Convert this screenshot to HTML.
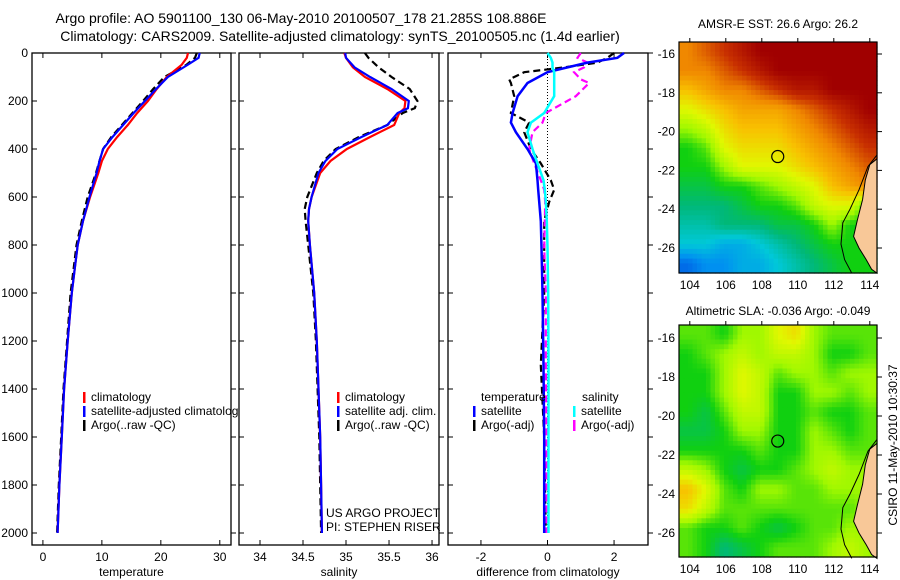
<!DOCTYPE html>
<html><head><meta charset="utf-8">
<style>
html,body{margin:0;padding:0;background:#fff;}
svg{display:block;font-family:"Liberation Sans",sans-serif;}
text{fill:#000;}
</style></head>
<body>
<svg id="fig" width="900" height="580" viewBox="0 0 900 580" xmlns="http://www.w3.org/2000/svg">
<text x="301" y="23" font-size="14" text-anchor="middle">Argo profile: AO 5901100_130 06-May-2010 20100507_178 21.285S 108.886E</text>
<text x="340" y="41" font-size="14" text-anchor="middle">Climatology: CARS2009. Satellite-adjusted climatology: synTS_20100505.nc (1.4d earlier)</text>
<g id="g1"></g>
<g id="g2"></g>
<g id="g3"></g>
<g id="m1"></g>
<g id="m2"></g>
<text x="778" y="28" font-size="12" text-anchor="middle">AMSR-E SST: 26.6 Argo: 26.2</text>
<text x="778" y="315" font-size="12" text-anchor="middle">Altimetric SLA: -0.036 Argo: -0.049</text>
<text transform="translate(897,445) rotate(-90)" font-size="12" text-anchor="middle">CSIRO 11-May-2010 10:30:37</text>
</svg>
<script>
// ---- profile data ----
const depthT = [0,20,50,100,150,200,250,300,350,400,450,500,600,700,800,900,1000,1200,1400,1600,1800,2000];
const tempClim = [24.6,24.4,23.5,21,19.3,17.8,16,14.4,12.6,11,10,9.4,8,6.8,5.9,5.4,4.9,4.2,3.6,3.2,2.8,2.5];
const tempSat  = [26.6,26.4,24.5,21.2,19.2,17.3,15.4,13.6,11.8,10.2,9.6,9.1,7.9,6.8,5.9,5.4,4.9,4.2,3.6,3.2,2.8,2.5];
const tempArgo = [26.1,25.8,24.3,20.6,18.7,17,15.2,13.4,11.6,10.2,9.6,9,7.6,6.6,5.7,5.2,4.7,4.1,3.5,3.1,2.7,2.4];
const depthS = [0,20,60,100,150,200,230,250,300,350,400,450,500,600,650,700,800,1000,1200,1400,1600,1800,2000];
const salClim = [34.98,35.0,35.08,35.22,35.48,35.69,35.68,35.62,35.56,35.28,35.01,34.82,34.70,34.60,34.57,34.56,34.58,34.63,34.66,34.68,34.70,34.71,34.72];
const salSat  = [34.99,35.0,35.1,35.28,35.53,35.73,35.72,35.6,35.48,35.18,34.9,34.76,34.68,34.60,34.57,34.56,34.58,34.63,34.66,34.68,34.70,34.71,34.72];
const salArgo = [35.22,35.26,35.38,35.53,35.74,35.83,35.8,35.66,35.48,35.15,34.88,34.74,34.66,34.55,34.52,34.53,34.56,34.62,34.65,34.67,34.69,34.70,34.71];
const depthD = [0,20,40,60,80,110,125,180,250,290,330,400,460,530,570,620,700,810,1000,1300,1600,2000];
const dTSat  = [2.3,2.1,1.2,0.6,0,-0.4,-0.6,-0.9,-1.05,-1.1,-0.95,-0.6,-0.35,-0.3,-0.28,-0.25,-0.2,-0.18,-0.15,-0.12,-0.1,-0.1];
const dTArgo = [2.0,1.8,1.5,0.5,-0.7,-1.15,-1.1,-1.0,-1.1,-0.55,-0.7,-0.5,-0.2,0.1,0.2,0.05,-0.1,-0.1,-0.1,-0.2,-0.1,-0.05];
const dSSat  = [0,0.1,0.15,0.15,0.2,0.2,0.2,0.2,-0.1,-0.5,-0.6,-0.45,-0.3,-0.12,-0.08,-0.05,-0.02,0,0.02,0.03,0.03,0.03];
const dSArgo = [1.0,0.9,1.2,1.1,0.8,1.0,1.25,0.85,-0.05,-0.15,-0.45,-0.55,-0.4,-0.2,-0.1,-0.07,-0.08,-0.1,-0.05,-0.05,-0.03,-0.03];
const depthTicks = [0,200,400,600,800,1000,1200,1400,1600,1800,2000];
const tempTicks = [0,10,20,30];
const salTicks = [34,34.5,35,35.5,36];
const salTickLabels = ["34","34.5","35","35.5","36"];
const diffTicks = [-2,0,2];
// ---- map data (0..10 colour index) ----
const sstGrid = [
[8,8.5,9,9.5,10,10,10,10,10,10,10],
[8,8,8.5,9,9.5,10,10,10,10,10,10],
[7,7.5,8,8,8.5,9,9.5,9.5,10,10,10],
[6,6.5,7,7.5,7.5,7.5,8,8.5,9,9.5,10],
[5,5.5,6.5,7,7,7,7.5,8,8.5,9,9.5],
[4,4.5,6,6.5,6.5,6.5,7,7.5,8,8.5,9],
[4,4,5,6,6,6,6.5,7,7.5,8,8.5],
[3.5,3.5,4,4,4.5,5,5.5,6,7,7.5,8],
[3,3,3,3.5,4,4,4.5,5.5,6,6,4],
[2.5,2.5,3,3,3,3.5,3.5,4,5,4,4],
[2,2,1.5,1.5,2,2.5,3,3.5,4,4,4],
[0.5,1,1,1.5,1.5,2,2.5,3,3.5,4,4]];
const slaGrid = [
[4.5,4.5,4,5,5,6,6.5,5,4.5,4.5,4.5],
[4,4.5,5,5.5,5,5.5,5.5,5,4,4,4.5],
[4,4,5,6,5.5,4.5,5,5,4.5,5,5],
[4,4,5,6,5.5,4,4,5,5,4.5,5],
[4,3.5,4.5,5.5,5.5,4,4,4.5,4,4,4.5],
[3.5,3.5,4,5,5,4,4,5,4.5,4,4.5],
[4,4,4,4,4.5,4,4,5,5,4.5,4.5],
[5.5,5,4,3.5,4,4,4.5,5,5.5,5,5],
[7,6,4.5,4,5,5,4.5,4.5,5,5,5],
[6.5,5.5,4.5,4.5,4.5,4.5,4.5,4.5,4.5,4.5,5],
[4.5,4,4,4.5,4,3.5,4,4.5,4.5,5,5],
[4.5,4,3,3.5,4,4.5,4.5,4.5,5,5.5,5]];
const lonTicks = [104,106,108,110,112,114];
const latTicks = [-16,-18,-20,-22,-24,-26];
const coastLon = [114.4,114.0,113.75,113.6,113.3,113.1,113.4,113.8,114.1,114.4];
const coastLat = [-21.4,-21.7,-22.5,-23.5,-24.6,-25.4,-26.0,-26.6,-27.1,-27.3];
const shelfLon = [114.4,113.9,113.4,112.9,112.5,112.4,112.6,113.0];
const shelfLat = [-21.2,-21.8,-23.0,-24.0,-24.7,-25.8,-26.6,-27.3];
const floatLon = 108.886, floatLat = -21.285;

const NS="http://www.w3.org/2000/svg";
function mk(parent,tag,attrs,name,txt){const e=document.createElementNS(NS,tag);for(const k in attrs)e.setAttribute(k,attrs[k]);


if(txt!==undefined)e.textContent=txt;parent.appendChild(e);return e;}

const PT=53, PB=545, DMAX=2050;
const yD = d => PT + d*(PB-PT)/DMAX;
function panel(g,x0,x1,vmin,vmax,xt,xtl,xlabel,leftLabels){
  const xs=v=>x0+(v-vmin)*(x1-x0)/(vmax-vmin);
  mk(g,'rect',{x:x0,y:PT,width:x1-x0,height:PB-PT,fill:'#fff',stroke:'#000','stroke-width':1.3},'panel-frame');
  depthTicks.forEach(d=>{const y=yD(d);
    mk(g,'line',{x1:x0,x2:x0+5,y1:y,y2:y,stroke:'#000'},'y-tick');
    mk(g,'line',{x1:x1,x2:x1+5,y1:y,y2:y,stroke:'#000'},'y-tick');
    if(leftLabels) mk(g,'text',{x:x0-4,y:y+4,'font-size':12,'text-anchor':'end'},'y-tick-label',String(d));});
  xt.forEach((v,i)=>{const x=xs(v);
    mk(g,'line',{x1:x,x2:x,y1:PB,y2:PB-5,stroke:'#000'},'x-tick');
    mk(g,'line',{x1:x,x2:x,y1:PT,y2:PT+5,stroke:'#000'},'x-tick');
    mk(g,'text',{x:x,y:PB+16,'font-size':12,'text-anchor':'middle'},'x-tick-label',xtl[i]);});
  mk(g,'text',{x:(x0+x1)/2,y:PB+31,'font-size':12,'text-anchor':'middle'},'x-axis-title',xlabel);
  return xs;
}
function line(g,xs,vals,depths,color,dash,name,w){
  const pts=vals.map((v,i)=>xs(v).toFixed(1)+','+yD(depths[i]).toFixed(1)).join(' ');
  const a={points:pts,fill:'none',stroke:color,'stroke-width':w||2.2};
  if(dash)a['stroke-dasharray']=dash;
  mk(g,'polyline',a,name);
}
function legend(g,x,y,color,text,name){
  mk(g,'rect',{x:x,y:y-9,width:2.5,height:11,fill:color},name+'-marker');
  mk(g,'text',{x:x+8,y:y,'font-size':12},name+'-label',text);
}
// Panel 1
const g1=document.getElementById('g1');
const xT=panel(g1,32,231,-1.85,31.9,tempTicks,tempTicks.map(String),'temperature',true);
line(g1,xT,tempArgo,depthT,'#000','7,4','temp-argo-line');
line(g1,xT,tempClim,depthT,'#f00',null,'temp-climatology-line');
line(g1,xT,tempSat,depthT,'#00f',null,'temp-satellite-line');
legend(g1,83,401,'#f00','climatology','legend-climatology');
legend(g1,83,415,'#00f','satellite-adjusted climatology','legend-satellite');
legend(g1,83,429,'#000','Argo(..raw -QC)','legend-argo');
// Panel 2
const g2=document.getElementById('g2');
const xS=panel(g2,239,439,33.756,36.081,salTicks,salTickLabels,'salinity',false);
line(g2,xS,salArgo,depthS,'#000','7,4','sal-argo-line');
line(g2,xS,salClim,depthS,'#f00',null,'sal-climatology-line');
line(g2,xS,salSat,depthS,'#00f',null,'sal-satellite-line');
legend(g2,337,401,'#f00','climatology','legend-climatology');
legend(g2,337,415,'#00f','satellite adj. clim.','legend-satellite');
legend(g2,337,429,'#000','Argo(..raw -QC)','legend-argo');
mk(g2,'text',{x:326,y:517,'font-size':12},'project-label','US ARGO PROJECT');
mk(g2,'text',{x:326,y:531,'font-size':12},'pi-label','PI: STEPHEN RISER');
// Panel 3
const g3=document.getElementById('g3');
const xDf=panel(g3,448,648,-2.99,3.02,diffTicks,diffTicks.map(String),'difference from climatology',false);
mk(g3,'line',{x1:xDf(0),x2:xDf(0),y1:PT,y2:yD(2000),stroke:'#000','stroke-dasharray':'1,2'},'zero-line');
line(g3,xDf,dTArgo,depthD,'#000','7,4','dtemp-argo-line');
line(g3,xDf,dSArgo,depthD,'#f0f','7,4','dsal-argo-line');
line(g3,xDf,dTSat,depthD,'#00f',null,'dtemp-satellite-line',2.5);
line(g3,xDf,dSSat,depthD,'#0ff',null,'dsal-satellite-line',2.5);
mk(g3,'text',{x:481,y:401,'font-size':12},'legend-temperature-heading','temperature');
legend(g3,473,415,'#00f','satellite','legend-temp-satellite');
legend(g3,473,429,'#000','Argo(-adj)','legend-temp-argo');
mk(g3,'text',{x:582,y:401,'font-size':12},'legend-salinity-heading','salinity');
legend(g3,573,415,'#0ff','satellite','legend-sal-satellite');
legend(g3,573,429,'#f0f','Argo(-adj)','legend-sal-argo');

// Maps
const cmapStops=['#0048e0','#0090f0','#00c8d8','#00b878','#10d010','#a0f800','#e0f800','#f8c000','#f08800','#c83000','#a00000'];
function hex(c){return [1,3,5].map(i=>parseInt(c.substr(i,2),16));}
function cmap(v){const i=Math.max(0,Math.min(9,Math.floor(v)));const f=Math.min(1,v-i);const a=hex(cmapStops[i]),b=hex(cmapStops[i+1]);
  return 'rgb('+a.map((c,k)=>Math.round(c+(b[k]-c)*f)).join(',')+')';}
function sample(grid,fr,fc){
  const R=grid.length-1,C=grid[0].length-1;
  fr=Math.max(0,Math.min(R,fr));fc=Math.max(0,Math.min(C,fc));
  const r0=Math.floor(fr),c0=Math.floor(fc),r1=Math.min(R,r0+1),c1=Math.min(C,c0+1);
  const a=fr-r0,b=fc-c0;
  return (grid[r0][c0]*(1-b)+grid[r0][c1]*b)*(1-a)+(grid[r1][c0]*(1-b)+grid[r1][c1]*b)*a;
}
function mapPanel(g,y0,y1,grid,latTopPx,latBotPx){
  const X0=679,X1=877,LON0=103.4,LON1=114.4;
  const xl=lon=>X0+(lon-LON0)*(X1-X0)/(LON1-LON0);
  const yl=lat=>latTopPx+(-16-lat)*(latBotPx-latTopPx)/10;
  const rows=grid.length,cols=grid[0].length,SUB=4;
  const cw=(X1-X0)/(cols*SUB),ch=(y1-y0)/(rows*SUB);
  for(let r=0;r<rows*SUB;r++)for(let c=0;c<cols*SUB;c++){
    const v=sample(grid,(r+0.5)/SUB-0.5,(c+0.5)/SUB-0.5);
    const cell=mk(g,'rect',{x:(X0+c*cw).toFixed(1),y:(y0+r*ch).toFixed(1),width:(cw+0.6).toFixed(1),height:(ch+0.6).toFixed(1),fill:cmap(v)},'map-cell');
  }
  const land=coastLon.map((lo,i)=>xl(lo).toFixed(1)+','+yl(coastLat[i]).toFixed(1)).join(' ')+' '+X1+','+y1+' '+X1+','+yl(coastLat[0]).toFixed(1);
  mk(g,'polygon',{points:land,fill:'#f8c898',stroke:'#000','stroke-width':1},'land');
  const sh=shelfLon.map((lo,i)=>xl(lo).toFixed(1)+','+yl(shelfLat[i]).toFixed(1)).join(' ');
  mk(g,'polyline',{points:sh,fill:'none',stroke:'#000','stroke-width':1},'shelf-contour');
  mk(g,'circle',{cx:xl(floatLon),cy:yl(floatLat),r:6,fill:'none',stroke:'#000','stroke-width':1.2},'float-location');
  mk(g,'rect',{x:X0,y:y0,width:X1-X0,height:y1-y0,fill:'none',stroke:'#000','stroke-width':1.2},'map-frame');
  lonTicks.forEach(lo=>{const x=xl(lo);
    mk(g,'line',{x1:x,x2:x,y1:y0,y2:y0-4,stroke:'#000'},'lon-tick');
    mk(g,'text',{x:x,y:y1+16,'font-size':12,'text-anchor':'middle'},'lon-tick-label',String(lo));});
  latTicks.forEach(la=>{const y=yl(la);
    mk(g,'line',{x1:X1,x2:X1+5,y1:y,y2:y,stroke:'#000'},'lat-tick');
    mk(g,'text',{x:X0-4,y:y+4,'font-size':12,'text-anchor':'end'},'lat-tick-label',String(la));});
}
mapPanel(document.getElementById('m1'),42,273,sstGrid,54,248);
mapPanel(document.getElementById('m2'),325,557,slaGrid,338,533);
</script>
</body></html>
